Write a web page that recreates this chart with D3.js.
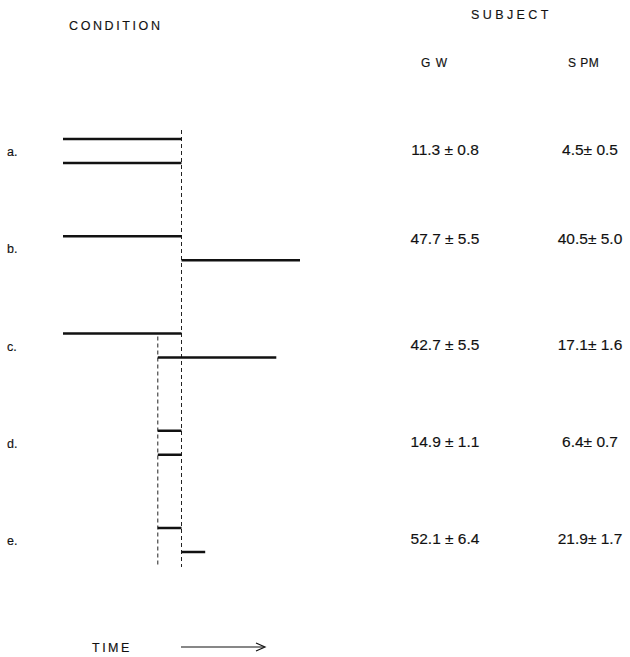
<!DOCTYPE html>
<html><head><meta charset="utf-8">
<script src="https://cdn.jsdelivr.net/npm/d3@7/dist/d3.min.js"></script>
<style>body{margin:0;background:#fff}svg{display:block}text{font-family:"Liberation Sans",Arial,sans-serif;fill:#111;stroke:#111;stroke-width:0.15}</style>
</head><body>
<svg id="c" width="630" height="657"></svg>
<script>
const conditions = ["a.", "b.", "c.", "d.", "e."];
// stimulus segments per condition, in time units: [row, start, end]
const segments = [
  [[0, 0, 50], [1, 0, 50]],
  [[0, 0, 50], [1, 50, 100]],
  [[0, 0, 50], [1, 40, 90]],
  [[0, 40, 50], [1, 40, 50]],
  [[0, 40, 50], [1, 50, 60]]
];
const subjects = ["G W", "S PM"];
const gwMean = ["11.3", "47.7", "42.7", "14.9", "52.1"];
const gwSD   = ["0.8", "5.5", "5.5", "1.1", "6.4"];
const spmMean = ["4.5", "40.5", "17.1", "6.4", "21.9"];
const spmSD   = ["0.5", "5.0", "1.6", "0.7", "1.7"];
const markerTimes = [50, 40];

const svg = d3.select("#c");
const x = d3.scaleLinear().domain([0, 100]).range([63, 300]);
const y = d3.scalePoint().domain(conditions).range([151, 540]);
const rowOff = 12;

// dashed reference lines
svg.append("line").attr("x1", x(markerTimes[0])).attr("x2", x(markerTimes[0]))
  .attr("y1", 130).attr("y2", 567).attr("stroke", "#222").attr("stroke-width", 1).attr("stroke-dasharray", "4,3");
svg.append("line").attr("x1", x(markerTimes[1])).attr("x2", x(markerTimes[1]))
  .attr("y1", y("c.") - rowOff + 3).attr("y2", 567).attr("stroke", "#222").attr("stroke-width", 1).attr("stroke-dasharray", "4,3");

// segments
conditions.forEach((c, i) => {
  svg.selectAll(null).data(segments[i]).enter().append("line")
    .attr("x1", d => x(d[1])).attr("x2", d => x(d[2]))
    .attr("y1", d => y(c) + (d[0] === 0 ? -rowOff : rowOff))
    .attr("y2", d => y(c) + (d[0] === 0 ? -rowOff : rowOff))
    .attr("stroke", "#111").attr("stroke-width", 2.5);
});

// condition labels
svg.selectAll(".lab").data(conditions).enter().append("text")
  .attr("x", 7).attr("y", d => y(d) + 5).attr("font-size", 12.5).text(d => d);

// headers
const hdr = svg.append("g").style("stroke-width", 0.3);
hdr.append("text").attr("x", 69).attr("y", 30).attr("font-size", 12.5).attr("letter-spacing", 2.6).text("CONDITION");
hdr.append("text").attr("x", 471).attr("y", 19).attr("font-size", 12.5).attr("letter-spacing", 3.4).text("SUBJECT");
hdr.append("text").attr("x", 421).attr("y", 67).attr("font-size", 12).attr("letter-spacing", 1).text(subjects[0]);
hdr.append("text").attr("x", 568).attr("y", 67).attr("font-size", 12).attr("letter-spacing", 0.5).text(subjects[1]);

// values
const colX = [445, 590];
const vy = conditions.map((c, i) => y(c) + (i === 1 ? -10 : -2) + 6);
svg.selectAll(".gw").data(conditions).enter().append("text")
  .attr("x", colX[0]).attr("y", (d, i) => vy[i]).attr("text-anchor", "middle").attr("font-size", 15.5)
  .text((d, i) => gwMean[i] + " \u00b1 " + gwSD[i]);
svg.selectAll(".spm").data(conditions).enter().append("text")
  .attr("x", colX[1]).attr("y", (d, i) => vy[i]).attr("text-anchor", "middle").attr("font-size", 15.5)
  .text((d, i) => spmMean[i] + "\u00b1 " + spmSD[i]);

// time axis
hdr.append("text").attr("x", 92).attr("y", 652).attr("font-size", 12.5).attr("letter-spacing", 2.5).text("TIME");
svg.append("line").attr("x1", 181).attr("x2", 264).attr("y1", 647).attr("y2", 647).attr("stroke", "#111").attr("stroke-width", 1.2);
svg.append("path").attr("d", "M256,643 L265,647 L256,651").attr("fill", "none").attr("stroke", "#111").attr("stroke-width", 1.2);
</script>
</body></html>
